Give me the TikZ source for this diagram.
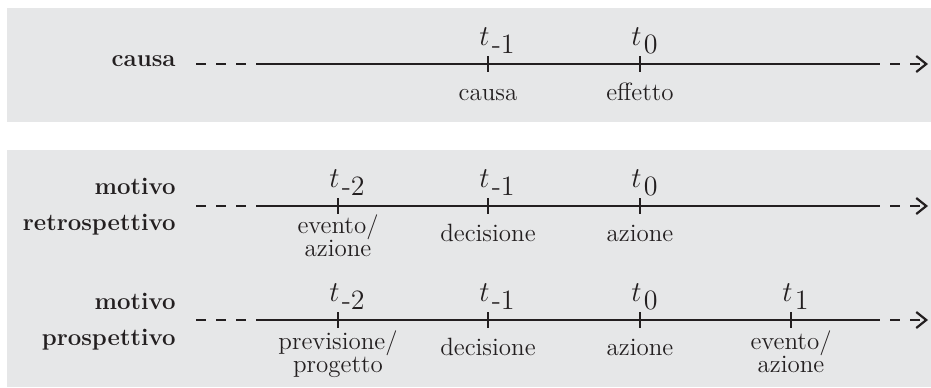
\documentclass[tikz,border=0pt]{standalone}
\usetikzlibrary{arrows.meta}

\definecolor{panelgray}{HTML}{E6E7E8}
\definecolor{inkgray}{HTML}{231F20}

\tikzset{
  panel/.style={fill=panelgray,draw=none},
  axisline/.style={draw=inkgray,line width=0.7pt},
  axisdash/.style={axisline,dash pattern=on 5pt off 5pt},
  tickmark/.style={draw=inkgray,line width=0.6pt},
  rowname/.style={align=right,inner sep=0pt,text=inkgray,
    font=\fontsize{12}{18}\selectfont\bfseries},
  tlabel/.style={anchor=base west,inner sep=0pt,text=inkgray,
    font=\fontsize{14}{16}\selectfont},
  evlabel/.style={anchor=base,align=center,inner sep=0pt,text=inkgray,
    font=\fontsize{12.5}{11.5}\selectfont},
}

\begin{document}
\begin{tikzpicture}[x=0.5pt,y=-0.5pt]
  \useasboundingbox (0,0) rectangle (931,387);

  % panels
  \fill[panel] (7,8) rectangle (931,122);
  \fill[panel] (7,150) rectangle (931,387);

  % row names
  \node[rowname,anchor=base east] (c-name) at (176,66) {causa};
  \node[rowname,anchor=east] (r-name) at (176,207) {motivo\\retrospettivo};
  \node[rowname,anchor=east] (p-name) at (176,322) {motivo\\prospettivo};

  % time axes
  \foreach \row/\y in {c/64, r/206, p/320} {
    \coordinate (\row-a) at (196,\y);
    \coordinate (\row-b) at (257,\y);
    \coordinate (\row-c) at (880,\y);
    \coordinate (\row-d) at (928,\y);
    \draw[axisdash] (\row-a) -- (\row-b);
    \draw[axisline] (\row-b) -- (\row-c);
    \draw[axisdash,dash phase=5pt,
      -{Straight Barb[length=5pt,width=8pt,line width=1.1pt]}] (\row-c) -- (\row-d);
  }

  % ticks and times
  \foreach \tk/\x/\y/\s in {c1/488/64/-1, c2/640/64/0,
                            r1/338/206/-2, r2/488/206/-1, r3/640/206/0,
                            p1/338/320/-2, p2/488/320/-1, p3/640/320/0, p4/791/320/1} {
    \coordinate (\tk) at (\x,\y);
    \draw[tickmark] (\tk) ++(0,-8) -- ++(0,16);
    \node[tlabel] (\tk-t) at (\x-9,\y-19) {$t_{\mkern2mu\textrm{\s}}$};
  }

  % events
  \node[evlabel] (c1-l) at (488,100) {causa};
  \node[evlabel] (c2-l) at (640,100) {effetto};
  \node[evlabel] (r1-l) at (338,256) {evento/\\azione};
  \node[evlabel] (r2-l) at (488,241) {decisione};
  \node[evlabel] (r3-l) at (640,241) {azione};
  \node[evlabel] (p1-l) at (338,372) {previsione/\\progetto};
  \node[evlabel] (p2-l) at (488,355) {decisione};
  \node[evlabel] (p3-l) at (640,355) {azione};
  \node[evlabel] (p4-l) at (791,372) {evento/\\azione};

\end{tikzpicture}
\end{document}
